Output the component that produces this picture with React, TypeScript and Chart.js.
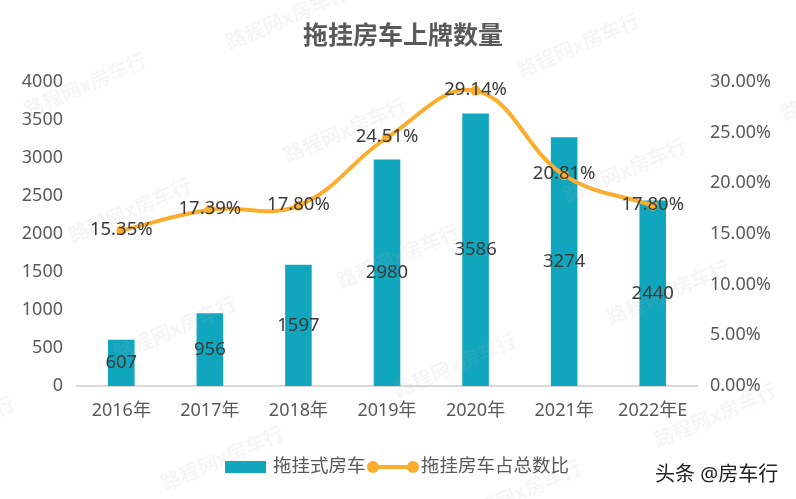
import React, { useEffect, useRef } from "react";
import { Chart, registerables } from "chart.js";

Chart.register(...registerables);

const categories = ["2016年", "2017年", "2018年", "2019年", "2020年", "2021年", "2022年E"];
const plates = [607, 956, 1597, 2980, 3586, 3274, 2440];
const shares = [15.35, 17.39, 17.8, 24.51, 29.14, 20.81, 17.8];
const leftTicks = [0, 500, 1000, 1500, 2000, 2500, 3000, 3500, 4000];
const rightTicks = [0, 5, 10, 15, 20, 25, 30];

const TITLE = "拖挂房车上牌数量";
const BAR_NAME = "拖挂式房车";
const LINE_NAME = "拖挂房车占总数比";
const SOURCE = "头条 @房车行";
const WATERMARK = "路程网x房车行";
const watermarkSpots: [number, number][] = [
  [287, 17], [85, 85], [345, 130], [130, 210], [578, 45], [625, 170], [842, 88],
  [175, 328], [222, 458], [668, 292], [455, 365], [715, 415], [398, 256], [-47, 428], [520, 492],
];

const BAR_COLOR = "#10A6BE";
const LINE_COLOR = "#FBAE2E";
const FONT = '"Noto Sans", "Noto Sans CJK SC", sans-serif';

const overlay = {
  id: "overlay",
  afterDatasetsDraw(chart: any) {
    const ctx = chart.ctx;
    ctx.save();
    // faint watermarks
    ctx.font = `bold 20px "Noto Sans CJK SC", sans-serif`;
    ctx.fillStyle = "rgba(185,185,185,0.12)";
    ctx.textAlign = "center";
    ctx.textBaseline = "middle";
    watermarkSpots.forEach(([x, y]) => {
      ctx.save();
      ctx.translate(x, y);
      ctx.rotate(-0.41);
      ctx.fillText(WATERMARK, 0, 0);
      ctx.restore();
    });
    ctx.font = `18.5px ${FONT}`;
    ctx.fillStyle = "#3a3a3a";
    const barMeta = chart.getDatasetMeta(1);
    barMeta.data.forEach((el: any, i: number) => {
      const y = (el.y + el.base) / 2;
      ctx.fillText(String(plates[i]), el.x, y);
    });
    const lineMeta = chart.getDatasetMeta(0);
    lineMeta.data.forEach((el: any, i: number) => {
      ctx.fillText(shares[i].toFixed(2) + "%", el.x, el.y - 1);
    });
    ctx.restore();
  },
  afterDraw(chart: any) {
    const ctx = chart.ctx;
    ctx.save();
    // title
    ctx.font = `bold 25px ${FONT}`;
    ctx.fillStyle = "#595959";
    ctx.textAlign = "center";
    ctx.textBaseline = "middle";
    ctx.fillText(TITLE, 403, 37);
    // legend
    const ly = 467;
    ctx.fillStyle = BAR_COLOR;
    ctx.fillRect(225, ly - 6, 41, 12);
    ctx.font = `18.5px ${FONT}`;
    ctx.fillStyle = "#595959";
    ctx.textAlign = "left";
    ctx.fillText(BAR_NAME, 273, ly);
    ctx.strokeStyle = LINE_COLOR;
    ctx.lineWidth = 4;
    ctx.beginPath();
    ctx.moveTo(373, ly);
    ctx.lineTo(413, ly);
    ctx.stroke();
    ctx.fillStyle = LINE_COLOR;
    [373, 413].forEach((x) => {
      ctx.beginPath();
      ctx.arc(x, ly, 6, 0, Math.PI * 2);
      ctx.fill();
    });
    ctx.fillStyle = "#595959";
    ctx.fillText(LINE_NAME, 421, ly);
    // source mark
    ctx.font = `20px ${FONT}`;
    ctx.fillStyle = "#222222";
    ctx.fillText(SOURCE, 655, 475);
    ctx.restore();
  },
};

export default function App() {
  const ref = useRef<HTMLCanvasElement | null>(null);
  useEffect(() => {
    if (!ref.current) return;
    const chart = new Chart(ref.current, {
      type: "bar",
      data: {
        labels: categories,
        datasets: [
          {
            type: "line",
            label: LINE_NAME,
            data: shares,
            yAxisID: "y1",
            borderColor: LINE_COLOR,
            backgroundColor: LINE_COLOR,
            borderWidth: 4,
            tension: 0.4,
            pointRadius: 5,
            pointBorderWidth: 0,
            pointBackgroundColor: LINE_COLOR,
            order: 0,
          } as any,
          {
            type: "bar",
            label: BAR_NAME,
            data: plates,
            yAxisID: "y",
            backgroundColor: BAR_COLOR,
            categoryPercentage: 1,
            barPercentage: 0.3,
            order: 1,
          },
        ],
      },
      options: {
        responsive: false,
        animation: false,
        layout: { padding: { top: 82, left: 0, right: 0, bottom: 0 } },
        plugins: {
          legend: { display: false },
          title: { display: false },
          tooltip: { enabled: false },
        },
        scales: {
          x: {
            grid: { color: "rgba(0,0,0,0)", drawTicks: false },
            border: { display: true, color: "#d9d9d9", width: 2 },
            ticks: { font: { family: FONT, size: 18 }, color: "#595959", padding: 14 },
            afterFit: (s: any) => {
              s.height = 113;
            },
          },
          y: {
            position: "left",
            min: 0,
            max: 4000,
            afterBuildTicks: (s: any) => {
              s.ticks = leftTicks.map((v) => ({ value: v }));
            },
            grid: { display: false, drawTicks: false },
            border: { display: false },
            ticks: {
              font: { family: FONT, size: 18 },
              color: "#595959",
              padding: 14,
              callback: (v: any) => String(v),
            },
            afterFit: (s: any) => {
              s.width = 77;
            },
          },
          y1: {
            position: "right",
            min: 0,
            max: 30,
            afterBuildTicks: (s: any) => {
              s.ticks = rightTicks.map((v) => ({ value: v }));
            },
            grid: { display: false, drawTicks: false },
            border: { display: false },
            ticks: {
              font: { family: FONT, size: 18 },
              color: "#595959",
              padding: 13,
              callback: (v: any) => Number(v).toFixed(2) + "%",
            },
            afterFit: (s: any) => {
              s.width = 99;
            },
          },
        },
      },
      plugins: [overlay],
    });
    return () => chart.destroy();
  }, []);
  return (
    <div style={{ position: "absolute", left: 0, top: 0, width: 796, height: 499, background: "#fff" }}>
      <canvas ref={ref} width={796} height={499} style={{ display: "block" }} />
    </div>
  );
}
